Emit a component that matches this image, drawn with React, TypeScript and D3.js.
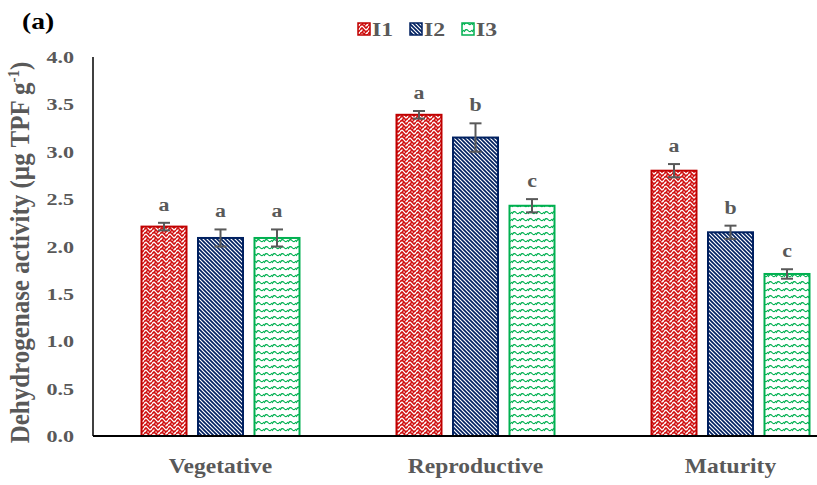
import React from "react";
import * as d3 from "d3";

const categories = ["Vegetative", "Reproductive", "Maturity"];
const seriesNames = ["I1", "I2", "I3"];
const valuesI1 = [2.21, 3.39, 2.8];
const valuesI2 = [2.09, 3.15, 2.15];
const valuesI3 = [2.09, 2.43, 1.71];
const errorsI1 = [0.04, 0.04, 0.07];
const errorsI2 = [0.09, 0.15, 0.07];
const errorsI3 = [0.09, 0.07, 0.05];
const lettersI1 = ["a", "a", "a"];
const lettersI2 = ["a", "b", "b"];
const lettersI3 = ["a", "c", "c"];
const yTicks = [0, 0.5, 1, 1.5, 2, 2.5, 3, 3.5, 4];

const W = 817;
const H = 485;
const margin = { left: 93, top: 57, bottom: 436 };
const colors = ["#c00000", "#002060", "#00b050"];
const gray = "#595959";
const font = "'Liberation Serif', 'Times New Roman', serif";

type TProps = {
  x: number;
  y: number;
  size: number;
  sx?: number;
  anchor?: "start" | "middle" | "end";
  fill?: string;
  children: React.ReactNode;
};

// Bold serif label with a slight horizontal stretch
function WideText({ x, y, size, sx = 1.2, anchor = "start", fill = gray, children }: TProps) {
  return (
    <g transform={`translate(${x},${y}) scale(${sx},1)`}>
      <text x={0} y={0} textAnchor={anchor} fontFamily={font} fontWeight="bold" fontSize={size} fill={fill}>
        {children}
      </text>
    </g>
  );
}

export default function App() {
  const x = d3.scaleBand().domain(categories).range([margin.left, margin.left + 765]);
  const y = d3.scaleLinear().domain([0, 4]).range([margin.bottom, margin.top]);
  const barW = 45;
  const step = 56.5;
  const series = [
    { name: seriesNames[0], values: valuesI1, errors: errorsI1, letters: lettersI1 },
    { name: seriesNames[1], values: valuesI2, errors: errorsI2, letters: lettersI2 },
    { name: seriesNames[2], values: valuesI3, errors: errorsI3, letters: lettersI3 },
  ];

  return (
    <svg width={W} height={H} style={{ position: "absolute", left: 0, top: 0, background: "#fff" }}>
      <defs>
        <pattern id="p0" width="8" height="8" patternUnits="userSpaceOnUse">
          <rect width="8" height="8" fill="#fff" />
          <path d="M0,2 L2,0 L4,2 L6,4 L8,2 M0,6 L2,4 L4,6 L6,8 L8,6 M2,8 L4,6 M6,0 L8,-2" stroke="#d01010" strokeWidth="1.7" fill="none" />
          <path d="M4,2 L6,0 M0,6 L-2,8" stroke="#d01010" strokeWidth="1.3" fill="none" />
        </pattern>
        <pattern id="p1" width="4" height="4" patternUnits="userSpaceOnUse">
          <rect width="4" height="4" fill="#002060" />
          <path d="M-1,-1 L5,5 M-1,3 L1,5 M3,-1 L5,1" stroke="#fff" strokeWidth="1.2" />
        </pattern>
        <pattern id="p2" width="8" height="7" patternUnits="userSpaceOnUse">
          <rect width="8" height="7" fill="#fff" />
          <path d="M0,4 Q2,0 4,2.5 T8,2" stroke="#00b050" strokeWidth="1.2" fill="none" />
        </pattern>
      </defs>

      <WideText x={22} y={29} size={23} sx={1.2} fill="#000">(a)</WideText>

      {series.map((s, i) => (
        <g key={s.name}>
          <rect x={358 + i * 52} y={23} width={12} height={12} fill={`url(#p${i})`} stroke={colors[i]} strokeWidth={1.5} />
          <WideText x={372 + i * 52} y={36} size={19} sx={1.25}>{s.name}</WideText>
        </g>
      ))}

      {yTicks.map((t) => (
        <WideText key={t} x={74} y={y(t) + 6} size={17} sx={1.3} anchor="end">
          {t.toFixed(1)}
        </WideText>
      ))}

      <g transform={`translate(29,${(margin.top + margin.bottom) / 2 + 6}) rotate(-90) scale(1,1.08)`}>
        <text x={0} y={0} textAnchor="middle" fontFamily={font} fontWeight="bold" fontSize={25} fill={gray}>
          Dehydrogenase activity (µg TPF g<tspan dy={-9} fontSize={15}>-1</tspan>
          <tspan dy={9}>)</tspan>
        </text>
      </g>

      {categories.map((c, ci) => {
        const cx = x(c)! + x.bandwidth() / 2;
        return (
          <g key={c}>
            {series.map((s, i) => {
              const bx = cx + (i - 1) * step - barW / 2;
              const v = s.values[ci];
              const e = s.errors[ci];
              const mx = bx + barW / 2;
              return (
                <g key={s.name}>
                  <rect x={bx} y={y(v)} width={barW} height={y(0) - y(v)} fill={`url(#p${i})`} stroke={colors[i]} strokeWidth={2} />
                  <line x1={mx} x2={mx} y1={y(v + e)} y2={y(v - e)} stroke={gray} strokeWidth={2} />
                  <line x1={mx - 6} x2={mx + 6} y1={y(v + e)} y2={y(v + e)} stroke={gray} strokeWidth={2} />
                  <line x1={mx - 6} x2={mx + 6} y1={y(v - e)} y2={y(v - e)} stroke={gray} strokeWidth={2} />
                  <WideText x={mx} y={y(v + e) - 12} size={19} sx={1.15} anchor="middle">
                    {s.letters[ci]}
                  </WideText>
                </g>
              );
            })}
            <WideText x={cx} y={473} size={21} sx={1.12} anchor="middle">{c}</WideText>
          </g>
        );
      })}

      <line x1={margin.left} x2={margin.left} y1={margin.top} y2={margin.bottom} stroke="#000" strokeWidth={1.5} />
      <line x1={margin.left} x2={margin.left + 765} y1={margin.bottom} y2={margin.bottom} stroke="#000" strokeWidth={2} />
    </svg>
  );
}
